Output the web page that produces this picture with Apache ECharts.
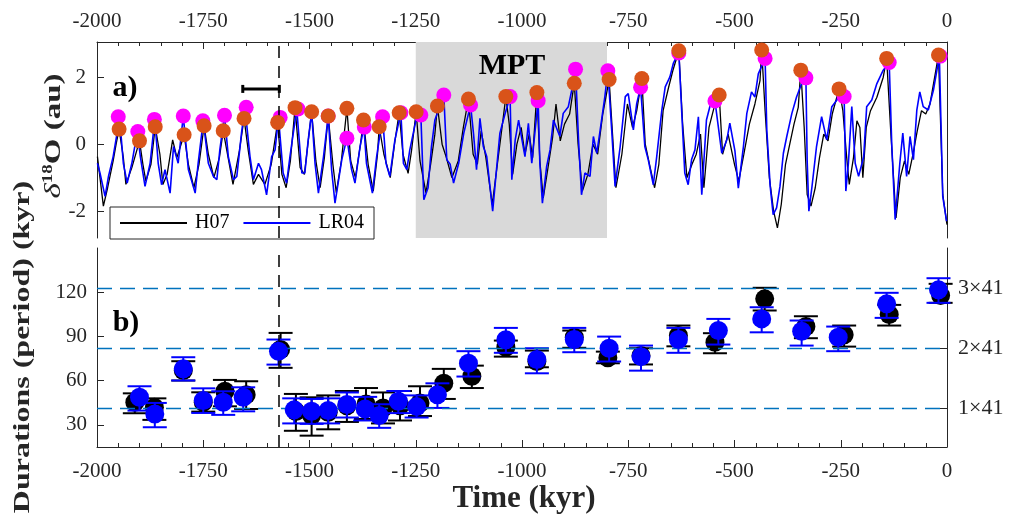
<!DOCTYPE html>
<html><head><meta charset="utf-8">
<script src="https://cdn.jsdelivr.net/npm/echarts@6/dist/echarts.min.js"></script>
<style>html,body{margin:0;padding:0;background:#fff}#c{width:1014px;height:517px}</style>
</head><body><div id="c"></div>
<script>
// ---------- data ----------
const xTickValues = [-2000,-1750,-1500,-1250,-1000,-750,-500,-250,0];
const xTickLabels = ['-2000','-1750','-1500','-1250','-1000','-750','-500','-250','0'];
const topYTicks = [-2,0,2];
const botYTicks = [30,60,90,120];
const harmonicLevels = [41,82,123];
const harmonicLabels = ['1×41','2×41','3×41'];
const mptRange = [-1250,-800];
const refTime = -1572;
const refBar = [-1657,-1571,1.65];

const lr04Time = [-1999,-1993,-1981,-1973,-1962,-1954,-1947,-1938,-1929,-1918,-1905,-1898,-1887,-1875,-1864,-1856,-1848,-1840,-1828,-1820,-1809,-1797,-1785,-1769,-1762,-1750,-1738,-1726,-1718,-1711,-1700,-1691,-1679,-1671,-1660,-1652,-1640,-1632,-1620,-1613,-1601,-1589,-1581,-1573,-1562,-1554,-1546,-1530,-1518,-1511,-1503,-1495,-1487,-1479,-1467,-1456,-1448,-1440,-1424,-1412,-1401,-1393,-1381,-1372,-1366,-1352,-1342,-1328,-1320,-1311,-1299,-1285,-1279,-1271,-1264,-1249,-1238,-1231,-1221,-1213,-1205,-1197,-1184,-1177,-1169,-1161,-1149,-1137,-1121,-1114,-1107,-1099,-1091,-1083,-1069,-1060,-1052,-1040,-1028,-1024,-1016,-1008,-1000,-993,-985,-977,-962,-958,-952,-942,-934,-926,-911,-903,-891,-883,-874,-867,-860,-852,-840,-832,-824,-816,-805,-798,-789,-781,-769,-757,-750,-738,-730,-721,-711,-703,-691,-683,-671,-663,-652,-644,-631,-624,-617,-609,-601,-593,-585,-577,-566,-554,-546,-530,-518,-511,-499,-491,-479,-471,-460,-452,-444,-428,-424,-416,-409,-401,-393,-385,-377,-365,-354,-342,-332,-329,-325,-318,-307,-295,-283,-271,-259,-252,-242,-238,-232,-224,-216,-208,-196,-189,-177,-165,-150,-136,-130,-122,-111,-104,-95,-87,-79,-71,-64,-56,-44,-32,-18,-10,-1];
const lr04Value = [-0.57,-0.86,-1.56,-0.96,-0.37,0.23,0.82,-0.57,-1.16,-0.57,0.38,-0.37,-1.26,-0.57,0.74,-0.57,-1.21,-0.76,-1.46,-0.07,-0.57,0.84,-0.76,-1.46,-0.57,0.70,-0.57,-0.96,-1.06,-0.17,0.86,-0.37,-1.06,-0.96,0.33,1.10,-0.37,-1.06,-0.57,-0.76,-1.51,-0.37,-0.17,0.80,-0.86,-1.16,-0.37,1.05,-0.86,-0.86,0.13,0.95,-0.57,-1.46,-0.37,0.84,-0.76,-1.76,-0.46,0.18,-0.76,-1.16,-0.07,0.51,-0.57,-1.46,-0.37,0.82,-0.57,-0.96,0.13,0.94,-0.57,-0.76,-0.17,0.75,0.87,-1.66,-1.3,-0.07,0.72,1.0,1.47,-0.46,-0.6,-1.16,-0.57,0.33,1.17,0.3,-0.76,0.77,-0.07,-0.37,-2.0,-0.76,0.33,0.9,1.42,-1.06,0.13,0.72,0.13,-0.37,0.62,-0.57,1.30,-0.57,-1.76,-0.66,-0.17,0.72,0.23,0.92,1.12,1.61,2.24,0.13,-1.51,-0.86,-0.96,0.23,-0.27,0.43,1.42,2.19,0.43,-1.26,-0.07,1.42,1.51,0.43,1.22,1.70,-0.07,-0.46,-1.21,-0.37,1.02,1.71,2.01,2.41,2.75,0.92,-0.86,-1.21,-0.46,-0.17,0.82,-1.51,0.72,1.32,1.29,-0.27,0.13,0.63,-0.2,-1.31,-0.07,0.92,1.56,1.41,2.10,2.56,0.43,-1.26,-2.1,-1.9,-1.26,-0.27,0.23,0.92,1.41,1.81,1.98,-0.5,-2.0,-1.3,-0.07,0.82,0.13,1.12,1.32,1.61,1.42,-1.4,-0.57,1.12,-0.57,-0.96,-0.37,1.12,1.32,1.81,2.21,2.44,0.0,-2.25,-0.57,0.33,-0.96,0.23,-0.46,1.02,1.56,1.12,1.02,1.61,2.63,-1.56,-2.3];

const h07Time = [-1999,-1993,-1985,-1975,-1962,-1955,-1948,-1938,-1932,-1918,-1900,-1892,-1885,-1873,-1863,-1852,-1845,-1835,-1822,-1812,-1795,-1785,-1772,-1760,-1748,-1738,-1725,-1712,-1703,-1693,-1680,-1665,-1654,-1644,-1632,-1620,-1605,-1590,-1575,-1565,-1555,-1545,-1534,-1522,-1512,-1495,-1485,-1475,-1465,-1456,-1445,-1437,-1425,-1412,-1403,-1392,-1380,-1373,-1362,-1350,-1340,-1336,-1325,-1310,-1300,-1289,-1280,-1268,-1260,-1249,-1240,-1226,-1215,-1205,-1199,-1188,-1178,-1165,-1150,-1138,-1126,-1115,-1105,-1096,-1085,-1070,-1058,-1048,-1038,-1030,-1022,-1012,-1002,-993,-983,-975,-965,-958,-950,-940,-928,-920,-910,-900,-888,-877,-868,-858,-845,-833,-822,-810,-795,-787,-779,-765,-752,-740,-730,-718,-710,-700,-688,-678,-668,-655,-645,-631,-622,-612,-600,-590,-580,-572,-560,-548,-536,-528,-515,-500,-490,-478,-465,-452,-440,-436,-428,-418,-408,-399,-390,-380,-370,-360,-350,-344,-336,-329,-320,-310,-300,-290,-280,-270,-254,-245,-236,-230,-220,-212,-205,-198,-190,-180,-165,-150,-142,-132,-120,-110,-100,-90,-80,-70,-60,-50,-40,-20,-10,0];
const h07Value = [-0.37,-1.0,-1.85,-1.3,-0.5,0.0,0.45,-0.4,-1.2,-0.7,0.10,-0.6,-1.1,-0.6,0.52,-0.3,-1.2,-0.9,0.13,-0.4,0.28,-0.6,-1.3,-0.6,0.55,-0.3,-1.0,-0.4,0.40,-0.3,-1.2,-0.2,0.77,-0.2,-1.2,-0.9,-1.2,-0.6,0.65,-0.9,-1.3,-0.5,1.09,-0.7,-0.9,0.97,-0.5,-1.3,-0.4,0.84,-0.6,-1.45,-0.5,1.07,-0.5,-1.0,0.0,0.72,-0.6,-1.4,-0.3,0.52,-0.3,-1.0,0.0,0.94,-0.3,-0.87,-0.2,0.97,-0.5,-1.45,-0.6,0.3,1.14,0.0,-0.4,-1.0,-0.5,0.5,1.35,-0.3,-0.6,0.4,-0.4,-1.8,-0.6,0.4,1.42,0.6,-0.9,0.0,0.5,-0.3,0.3,-0.4,1.54,-0.5,-1.6,-0.8,0.2,1.2,0.1,0.6,0.9,1.82,0.0,-1.4,-0.9,0.0,-0.3,0.9,1.93,0.3,-1.3,-0.3,1.2,0.5,1.0,1.96,0.0,-0.6,-1.3,-0.6,1.0,1.7,2.2,2.79,0.6,-1.0,-0.6,-0.3,0.3,-1.3,0.5,1.1,1.47,-0.3,0.3,-0.6,-1.1,-0.3,0.6,1.2,1.9,2.81,1.0,-1.0,-2.0,-2.5,-1.8,-0.6,0.0,0.6,1.1,2.21,0.5,-1.5,-1.85,-1.3,-0.4,0.3,0.1,0.9,1.65,1.0,-0.4,-1.2,-0.4,0.7,0.5,-1.0,0.5,1.0,1.4,2.0,2.56,0.3,-2.2,-1.0,-0.5,-0.9,-0.3,0.4,1.0,0.9,1.2,2.66,-1.5,-2.4];

const lr04PeakTime = [-1950,-1904,-1865,-1797,-1751,-1700,-1649,-1569,-1527,-1456,-1412,-1371,-1328,-1285,-1238,-1184,-1121,-1028,-962,-874,-798,-721,-631,-546,-428,-332,-242,-136,-16];
const lr04PeakValue = [0.82,0.38,0.74,0.84,0.70,0.86,1.10,0.80,1.05,0.84,0.18,0.51,0.82,0.94,0.87,1.47,1.17,1.42,1.30,2.24,2.19,1.70,2.72,1.29,2.56,1.98,1.42,2.44,2.63];
const h07PeakTime = [-1948,-1900,-1863,-1795,-1748,-1703,-1654,-1575,-1534,-1495,-1456,-1412,-1373,-1336,-1289,-1249,-1199,-1126,-1038,-965,-877,-795,-718,-631,-536,-436,-344,-254,-142,-20];
const h07PeakValue = [0.45,0.10,0.52,0.28,0.55,0.40,0.77,0.65,1.09,0.97,0.84,1.07,0.72,0.52,0.94,0.97,1.14,1.35,1.42,1.54,1.82,1.93,1.96,2.79,1.47,2.81,2.21,1.65,2.56,2.66];

const durLR04Time = [-1900,-1864,-1797,-1750,-1703,-1656,-1573,-1536,-1495,-1456,-1412,-1369,-1336,-1291,-1248,-1199,-1126,-1038,-965,-877,-795,-720,-632,-538,-436,-342,-256,-142,-20];
const durLR04Value = [48.7,37.4,68,46.5,45.3,48.7,80,40.2,39.2,39.7,43.8,40.8,36.3,46,42.4,50.5,71.8,87.7,74.3,87.9,82,76.3,87.9,94,101.9,93.5,89.5,112.1,121.6];
const durLR04Low = [39.7,28.4,60.1,38.1,36.8,39.2,70.9,31,30.7,31,35,33,28,38,35,41.5,62.8,78.9,65,79.3,73,66.8,78.9,84.5,92.8,83.8,80,102.6,112.8];
const durLR04High = [56.2,44.9,75.9,54.8,52.8,55.5,87.9,48,47.6,48,52,49,44,53,50,58.2,80,95.8,82,95.8,89.9,83.8,95.8,101.9,109.8,100.8,96.7,119.6,129.5];

const durH07Time = [-1911,-1865,-1797,-1750,-1699,-1649,-1568,-1532,-1495,-1456,-1412,-1367,-1327,-1287,-1240,-1184,-1118,-1038,-965,-877,-798,-720,-632,-546,-429,-332,-242,-136,-15];
const durH07Value = [45.3,41.9,66.9,45.4,52.8,50.5,81.1,39,36.3,38.5,43,44.2,41.5,43,44.9,58.2,63,82.7,73,89.5,75.5,77,90.6,86,115.5,96.7,91.1,104.9,117.8];
const durH07Low = [37.9,33.4,60.1,39,42.6,40.8,68.7,26,22.7,27,32,34,31,33,36,47.6,55,76.3,69.1,82.3,71.8,71,83.3,78.6,107.6,88.8,83.1,97.4,112.8];
const durH07High = [51.4,48,73.2,52.1,60.5,59.6,92.4,51,48.7,50,53,55,52,53,56.2,68,70.2,87.2,80.4,94,79.7,82,97.4,92.2,123,103.7,97.4,111.4,125.7];

// ---------- build ----------
const FONT = '"Liberation Serif","Times New Roman",serif';
const AX = '#262626';
const zip = (a,b) => a.map((v,i)=>[v,b[i]]);
const zip3 = (a,b,c) => a.map((v,i)=>[v,b[i],c[i]]);
const xLabelOf = v => { const i = xTickValues.indexOf(v); return i>=0 ? xTickLabels[i] : ''; };

function xAxisFor(gi, pos, margin){
  return {type:'value', gridIndex:gi, position:pos, min:-2000, max:0, interval:250,
    axisLine:{show:true, onZero:false, lineStyle:{color:AX, width:1}},
    axisTick:{show:true, inside:true, length:7, lineStyle:{color:AX, width:1}},
    minorTick:{show:true, splitNumber:5, length:4, lineStyle:{color:AX, width:1}},
    axisLabel:{show:true, margin:margin, color:AX, fontSize:21, fontFamily:FONT, formatter:xLabelOf},
    splitLine:{show:false}, minorSplitLine:{show:false}};
}
function errRender(color){
  return function(params, api){
    const x = api.value(0), lo = api.value(1), hi = api.value(2);
    const a = api.coord([x, lo]), b = api.coord([x, hi]);
    const hw = 12, st = {stroke:color, lineWidth:2};
    return {type:'group', children:[
      {type:'line', shape:{x1:a[0],y1:a[1],x2:b[0],y2:b[1]}, style:st},
      {type:'line', shape:{x1:a[0]-hw,y1:a[1],x2:a[0]+hw,y2:a[1]}, style:st},
      {type:'line', shape:{x1:b[0]-hw,y1:b[1],x2:b[0]+hw,y2:b[1]}, style:st}
    ]};
  };
}
const centered = {align:'center', verticalAlign:'middle', textAlign:'center', textVerticalAlign:'middle'};

const chart = echarts.init(document.getElementById('c'), null, {renderer:'canvas'});
const option = {
  animation:false,
  backgroundColor:'#fff',
  grid:[
    {left:97, right:67, top:42, height:196, outerBoundsMode:'none', containLabel:false},
    {left:97, right:67, top:248, height:199, outerBoundsMode:'none', containLabel:false}
  ],
  xAxis:[ xAxisFor(0,'top',10), xAxisFor(1,'bottom',14) ],
  yAxis:[
    {type:'value', gridIndex:0, position:'left', min:-2.8, max:3.05,
     axisLine:{show:true, onZero:false, lineStyle:{color:AX}},
     axisTick:{show:true, inside:true, length:7, customValues:topYTicks, lineStyle:{color:AX}},
     axisLabel:{show:true, margin:11, color:AX, fontSize:21, fontFamily:FONT, customValues:topYTicks},
     splitLine:{show:false}},
    {type:'value', gridIndex:0, position:'right', min:-2.8, max:3.05,
     axisLine:{show:true, onZero:false, lineStyle:{color:AX}},
     axisTick:{show:false}, axisLabel:{show:false}, splitLine:{show:false}},
    {type:'value', gridIndex:1, position:'left', min:15, max:150,
     axisLine:{show:true, onZero:false, lineStyle:{color:AX}},
     axisTick:{show:true, inside:true, length:7, customValues:botYTicks, lineStyle:{color:AX}},
     axisLabel:{show:true, margin:10, color:AX, fontSize:21, fontFamily:FONT, customValues:botYTicks},
     splitLine:{show:false}},
    {type:'value', gridIndex:1, position:'right', min:15, max:150,
     axisLine:{show:true, onZero:false, lineStyle:{color:AX}},
     axisTick:{show:true, inside:true, length:7, customValues:harmonicLevels, lineStyle:{color:AX}},
     axisLabel:{show:true, margin:11, color:AX, fontSize:22, fontFamily:FONT, customValues:harmonicLevels,
       formatter:v=>{const i=harmonicLevels.indexOf(v); return i>=0?harmonicLabels[i]:'';}},
     splitLine:{show:false}}
  ],
  legend:{left:110, top:207, orient:'horizontal', selectedMode:false,
    data:[{name:'H07', icon:'rect', itemStyle:{color:'#000'}}, {name:'LR04', icon:'rect', itemStyle:{color:'#0000ff'}}],
    itemWidth:67, itemHeight:2, itemGap:14, padding:[6,10,6,10],
    backgroundColor:'#fff', borderColor:AX, borderWidth:1, borderRadius:0,
    textStyle:{fontFamily:FONT, fontSize:20, color:'#000', padding:[0,0,0,3]}},
  series:[
    {type:'line', xAxisIndex:0, yAxisIndex:0, data:[], silent:true, z:1,
     markArea:{silent:true, itemStyle:{color:'#d9d9d9'}, data:[[{xAxis:mptRange[0]},{xAxis:mptRange[1]}]]},
     markLine:{silent:true, symbol:['none','none'], label:{show:false},
       lineStyle:{color:'#000', type:[12,8], width:1.5}, data:[{xAxis:refTime}]}},
    {name:'H07', type:'line', xAxisIndex:0, yAxisIndex:0, data:zip(h07Time,h07Value),
     showSymbol:false, symbol:'none', lineStyle:{color:'#000', width:1.3}, itemStyle:{color:'#000'}, z:2},
    {name:'LR04', type:'line', xAxisIndex:0, yAxisIndex:0, data:zip(lr04Time,lr04Value),
     showSymbol:false, symbol:'none', lineStyle:{color:'#0000ff', width:1.6}, itemStyle:{color:'#0000ff'}, z:3},
    {type:'scatter', xAxisIndex:0, yAxisIndex:0, data:zip(lr04PeakTime,lr04PeakValue),
     symbolSize:15, itemStyle:{color:'#ff00ff', opacity:1}, z:4},
    {type:'scatter', xAxisIndex:0, yAxisIndex:0, data:zip(h07PeakTime,h07PeakValue),
     symbolSize:15, itemStyle:{color:'#d95319', opacity:1}, z:5},
    {type:'custom', xAxisIndex:0, yAxisIndex:0, data:[refBar], encode:{x:[0,1], y:2}, z:6,
     renderItem:function(params, api){
       const a = api.coord([api.value(0), api.value(2)]), b = api.coord([api.value(1), api.value(2)]);
       const st = {stroke:'#000', lineWidth:3};
       return {type:'group', children:[
         {type:'line', shape:{x1:a[0],y1:a[1],x2:b[0],y2:b[1]}, style:st},
         {type:'line', shape:{x1:a[0],y1:a[1]-4,x2:a[0],y2:a[1]+4}, style:st},
         {type:'line', shape:{x1:b[0],y1:b[1]-4,x2:b[0],y2:b[1]+4}, style:st}]};
     }},
    {type:'line', xAxisIndex:1, yAxisIndex:2, data:[], silent:true, z:1,
     markLine:{silent:true, symbol:['none','none'], label:{show:false}, data:[
       {xAxis:refTime, lineStyle:{color:'#000', type:[12,8], width:1.5}},
       {yAxis:harmonicLevels[0], lineStyle:{color:'#0072bd', type:[15,8], width:1.4}},
       {yAxis:harmonicLevels[1], lineStyle:{color:'#0072bd', type:[15,8], width:1.4}},
       {yAxis:harmonicLevels[2], lineStyle:{color:'#0072bd', type:[15,8], width:1.4}}]}},
    {type:'custom', xAxisIndex:1, yAxisIndex:2, data:zip3(durH07Time,durH07Low,durH07High),
     encode:{x:0, y:[1,2]}, renderItem:errRender('#000'), z:2},
    {type:'scatter', xAxisIndex:1, yAxisIndex:2, data:zip(durH07Time,durH07Value),
     symbolSize:19, itemStyle:{color:'#000', opacity:1}, z:3},
    {type:'custom', xAxisIndex:1, yAxisIndex:2, data:zip3(durLR04Time,durLR04Low,durLR04High),
     encode:{x:0, y:[1,2]}, renderItem:errRender('#0000ff'), z:4},
    {type:'scatter', xAxisIndex:1, yAxisIndex:2, data:zip(durLR04Time,durLR04Value),
     symbolSize:19, itemStyle:{color:'#0000ff', opacity:1}, z:5}
  ],
  graphic:[
    {type:'text', x:125, y:88, z:100, style:Object.assign({text:'a)', fontFamily:FONT, fontSize:30, fontWeight:'bold', fill:'#000'}, centered)},
    {type:'text', x:126, y:323, z:100, style:Object.assign({text:'b)', fontFamily:FONT, fontSize:30, fontWeight:'bold', fill:'#000'}, centered)},
    {type:'text', x:512, y:66, z:100, style:Object.assign({text:'MPT', fontFamily:FONT, fontSize:30, fontWeight:'bold', fill:'#000'}, centered)},
    {type:'text', x:524, y:499, z:100, style:Object.assign({text:'Time (kyr)', fontFamily:FONT, fontSize:31, fontWeight:'bold', fill:'#262626'}, centered)},
    {type:'text', x:23, y:347, z:100, rotation:Math.PI/2, scaleY:0.7, style:Object.assign({text:'Durations (period) (kyr)', fontFamily:FONT, fontSize:32, fontWeight:'bold', fill:'#262626'}, centered)},
    {type:'text', x:54, y:136, z:100, rotation:Math.PI/2, scaleY:0.72, style:Object.assign({text:'{d|δ}{s|18}{o|O (au)}', fill:'#262626',
      rich:{d:{fontFamily:FONT, fontSize:33, fontStyle:'italic', fill:'#262626'}, s:{fontFamily:FONT, fontSize:19, fontWeight:'bold', verticalAlign:'top', fill:'#262626'}, o:{fontFamily:FONT, fontSize:33, fontWeight:'bold', fill:'#262626'}}}, centered)}
  ]
};
chart.setOption(option);
</script></body></html>
